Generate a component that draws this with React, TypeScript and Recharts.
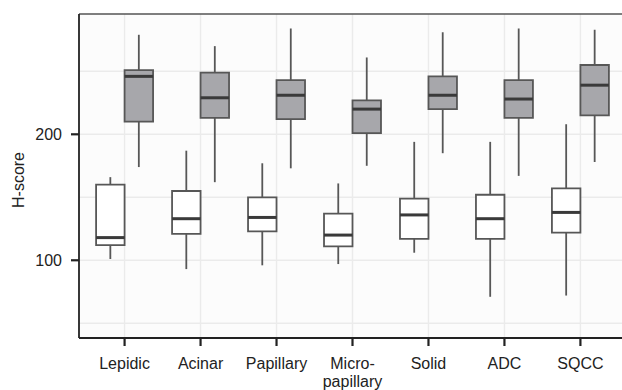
import React from 'react';
import {
  ComposedChart,
  XAxis,
  YAxis,
  CartesianGrid,
  ReferenceArea,
  ReferenceLine,
  Scatter,
} from 'recharts';

const categories = ['Lepidic', 'Acinar', 'Papillary', 'Micro-\npapillary', 'Solid', 'ADC', 'SQCC'];
const positions = [1, 2, 3, 4, 5, 6, 7];

// White (first) group
const whiteLow = [101, 93, 96, 97, 106, 71, 72];
const whiteQ1 = [112, 121, 123, 111, 117, 117, 122];
const whiteMed = [118, 133, 134, 120, 136, 133, 138];
const whiteQ3 = [160, 155, 150, 137, 149, 152, 157];
const whiteHigh = [166, 187, 177, 161, 194, 194, 208];

// Gray (second) group
const grayLow = [174, 162, 173, 175, 185, 167, 178];
const grayQ1 = [210, 213, 212, 201, 220, 213, 215];
const grayMed = [246, 229, 231, 220, 231, 228, 239];
const grayQ3 = [251, 249, 243, 227, 246, 243, 255];
const grayHigh = [279, 270, 284, 261, 281, 284, 283];

const yTicks = [100, 200];
const yGrid = [50, 100, 150, 200, 250];
const Y_MIN = 38.3;
const Y_MAX = 295.5;

const DODGE = 0.375;
const FONT = '"Liberation Sans", Arial, Helvetica, sans-serif';
const FS = 16;
const TEXT = '#222';
const BOX_STROKE = '#575757';
const MED_STROKE = '#3a3a3a';
const GRAY_FILL = '#a7a7ab';

type Box = { x: number; low: number; q1: number; med: number; q3: number; high: number; fill: string };

const boxes: Box[] = [];
positions.forEach((p, i) => {
  boxes.push({ x: p - DODGE / 2, low: whiteLow[i], q1: whiteQ1[i], med: whiteMed[i], q3: whiteQ3[i], high: whiteHigh[i], fill: '#ffffff' });
  boxes.push({ x: p + DODGE / 2, low: grayLow[i], q1: grayQ1[i], med: grayMed[i], q3: grayQ3[i], high: grayHigh[i], fill: GRAY_FILL });
});

const medianPoints = boxes.map((b) => ({ x: b.x, y: b.med }));

const XTick = (props: any) => {
  const { x, y, payload } = props;
  const label = categories[Math.round(payload.value) - 1] || '';
  const lines = label.split('\n');
  return (
    <text x={x} y={y} textAnchor="middle" style={{ fill: TEXT }} fontSize={FS} fontFamily={FONT}>
      {lines.map((l, i) => (
        <tspan key={i} x={x} dy={i === 0 ? 22.5 : 18.5}>
          {l}
        </tspan>
      ))}
    </text>
  );
};

const YLabel = (props: any) => {
  const vb = props.viewBox || { x: 0, y: 14, width: 79, height: 324 };
  const cx = 24;
  const cy = vb.y + vb.height / 2 + 4;
  return (
    <text
      x={cx}
      y={cy}
      transform={`rotate(-90, ${cx}, ${cy})`}
      textAnchor="middle"
      style={{ fill: TEXT }}
      fontSize={FS}
      fontFamily={FONT}
    >
      H-score
    </text>
  );
};

export default function App() {
  return (
    <div style={{ position: 'absolute', left: 0, top: 0, width: 622, height: 390, overflow: 'hidden', background: '#fff' }}>
      <ComposedChart width={630} height={390} margin={{ top: 14, right: 4, bottom: 0, left: 0 }} data={medianPoints}>
        <CartesianGrid
          fill="#fcfcfc"
          stroke="#ebebeb"
          strokeWidth={1.4}
          horizontalValues={yGrid}
          verticalValues={positions}
        />
        <XAxis
          type="number"
          dataKey="x"
          domain={[0.4, 7.6]}
          ticks={positions}
          allowDataOverflow
          height={52}
          tickSize={8}
          tickMargin={0}
          tickLine={{ stroke: TEXT, strokeWidth: 2.2 }}
          axisLine={{ stroke: TEXT, strokeWidth: 1.8 }}
          tick={<XTick />}
          interval={0}
        />
        <YAxis
          type="number"
          dataKey="y"
          domain={[Y_MIN, Y_MAX]}
          ticks={yTicks}
          allowDataOverflow
          width={79}
          tickSize={8}
          tickMargin={9}
          tickLine={{ stroke: TEXT, strokeWidth: 2.2 }}
          axisLine={{ stroke: TEXT, strokeWidth: 1.8 }}
          tick={{ fill: TEXT, fontSize: FS, fontFamily: FONT }}
          label={<YLabel />}
        />
        <ReferenceLine y={Y_MAX} stroke="#555" strokeWidth={1.5} ifOverflow="visible" />
        {boxes.map((b, i) => (
          <ReferenceLine
            key={`wu${i}`}
            segment={[{ x: b.x, y: b.q3 }, { x: b.x, y: b.high }]}
            stroke={BOX_STROKE}
            strokeWidth={1.8}
          />
        ))}
        {boxes.map((b, i) => (
          <ReferenceLine
            key={`wl${i}`}
            segment={[{ x: b.x, y: b.low }, { x: b.x, y: b.q1 }]}
            stroke={BOX_STROKE}
            strokeWidth={1.8}
          />
        ))}
        {boxes.map((b, i) => (
          <ReferenceArea
            key={`b${i}`}
            x1={b.x - DODGE / 2}
            x2={b.x + DODGE / 2}
            y1={b.q1}
            y2={b.q3}
            fill={b.fill}
            fillOpacity={1}
            stroke={BOX_STROKE}
            strokeWidth={1.8}
          />
        ))}
        {boxes.map((b, i) => (
          <ReferenceLine
            key={`m${i}`}
            segment={[{ x: b.x - DODGE / 2, y: b.med }, { x: b.x + DODGE / 2, y: b.med }]}
            stroke={MED_STROKE}
            strokeWidth={3}
          />
        ))}
        <Scatter data={medianPoints} dataKey="y" isAnimationActive={false} shape={() => <g />} />
      </ComposedChart>
    </div>
  );
}
